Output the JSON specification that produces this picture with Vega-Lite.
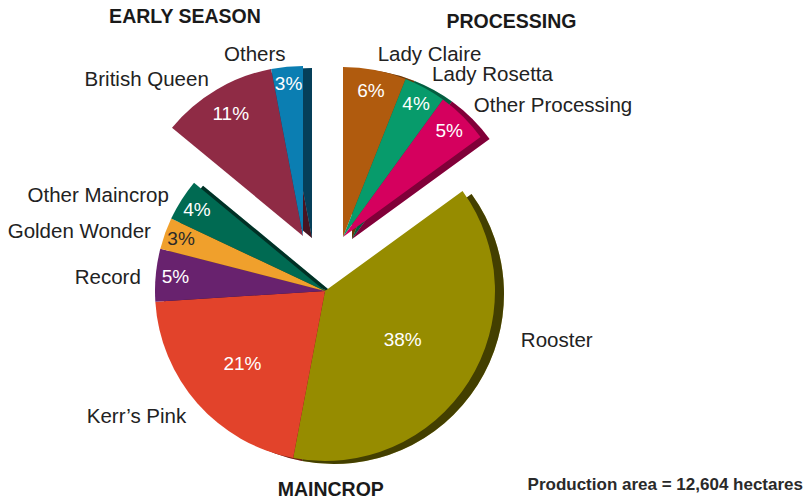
{
  "$schema": "https://vega.github.io/schema/vega-lite/v6.json",
  "width": 809,
  "height": 502,
  "padding": 0,
  "autosize": {"type": "none"},
  "background": "white",
  "config": {"view": {"stroke": null}, "font": "Liberation Sans"},
  "title": {"text": "Production area = 12,604 hectares", "orient": "bottom", "anchor": "end", "offset": -25, "dx": -6, "fontSize": 17, "fontWeight": "bold", "color": "#2a2a2a", "font": "Liberation Sans"},
  "datasets": {
    "varieties": [
      {"name": "Lady Claire", "group": "Processing", "value": 0.06, "order": 1},
      {"name": "Lady Rosetta", "group": "Processing", "value": 0.04, "order": 2},
      {"name": "Other Processing", "group": "Processing", "value": 0.05, "order": 3},
      {"name": "Rooster", "group": "Main", "value": 0.38, "order": 4},
      {"name": "Kerr’s Pink", "group": "Main", "value": 0.21, "order": 5},
      {"name": "Record", "group": "Main", "value": 0.05, "order": 6},
      {"name": "Golden Wonder", "group": "Main", "value": 0.03, "order": 7},
      {"name": "Other Maincrop", "group": "Main", "value": 0.04, "order": 8},
      {"name": "British Queen", "group": "Early", "value": 0.11, "order": 9},
      {"name": "Others", "group": "Early", "value": 0.03, "order": 10}
    ],
    "groups": [
      {"group": "Processing", "title": "PROCESSING", "value": 0.15, "order": 1},
      {"group": "Main", "title": "MAINCROP", "value": 0.71, "order": 2},
      {"group": "Early", "title": "EARLY SEASON", "value": 0.14, "order": 3}
    ]
  },
  "data": {"name": "varieties"},
  "layer": [
    {
      "mark": {"type": "arc", "outerRadius": 170, "xOffset": -70.5, "yOffset": 43},
      "encoding": {
        "theta": {"field": "value", "type": "quantitative", "stack": true},
        "order": {"field": "order", "type": "quantitative"},
        "color": {"field": "name", "type": "nominal", "legend": null,
          "scale": {"domain": ["Lady Claire", "Lady Rosetta", "Other Processing", "Rooster", "Kerr’s Pink", "Record", "Golden Wonder", "Other Maincrop", "British Queen", "Others"],
                    "range": ["#B05B0E", "#079B6B", "#D5005E", "#968C00", "#E2432B", "#68226E", "#F0A02C", "#006A52", "#8F2B45", "#0B7EB2"]}},
        "opacity": {"condition": {"test": "datum.group == 'Main'", "value": 1}, "value": 0}
      }
    },
    {
      "mark": {"type": "arc", "outerRadius": 170, "xOffset": -70.5, "yOffset": 43},
      "encoding": {
        "theta": {"field": "value", "type": "quantitative", "stack": true},
        "order": {"field": "order", "type": "quantitative"},
        "color": {"value": "#000000"},
        "opacity": {"condition": {"test": "datum.group == 'Main'", "value": 0.55}, "value": 0}
      }
    },
    {
      "mark": {"type": "arc", "outerRadius": 170, "xOffset": -79.5, "yOffset": 40},
      "encoding": {
        "theta": {"field": "value", "type": "quantitative", "stack": true},
        "order": {"field": "order", "type": "quantitative"},
        "color": {"field": "name", "type": "nominal", "legend": null},
        "opacity": {"condition": {"test": "datum.group == 'Main'", "value": 1}, "value": 0}
      }
    },
    {
      "mark": {"type": "arc", "outerRadius": 170, "xOffset": -92.5, "yOffset": -13},
      "encoding": {
        "theta": {"field": "value", "type": "quantitative", "stack": true},
        "order": {"field": "order", "type": "quantitative"},
        "color": {"field": "name", "type": "nominal", "legend": null},
        "opacity": {"condition": {"test": "datum.group == 'Early'", "value": 1}, "value": 0}
      }
    },
    {
      "mark": {"type": "arc", "outerRadius": 170, "xOffset": -92.5, "yOffset": -13},
      "encoding": {
        "theta": {"field": "value", "type": "quantitative", "stack": true},
        "order": {"field": "order", "type": "quantitative"},
        "color": {"value": "#000000"},
        "opacity": {"condition": {"test": "datum.group == 'Early'", "value": 0.5}, "value": 0}
      }
    },
    {
      "mark": {"type": "arc", "outerRadius": 170, "xOffset": -101.5, "yOffset": -15},
      "encoding": {
        "theta": {"field": "value", "type": "quantitative", "stack": true},
        "order": {"field": "order", "type": "quantitative"},
        "color": {"field": "name", "type": "nominal", "legend": null},
        "opacity": {"condition": {"test": "datum.group == 'Early'", "value": 1}, "value": 0}
      }
    },
    {
      "mark": {"type": "arc", "outerRadius": 170, "xOffset": -52.5, "yOffset": -12},
      "encoding": {
        "theta": {"field": "value", "type": "quantitative", "stack": true},
        "order": {"field": "order", "type": "quantitative"},
        "color": {"field": "name", "type": "nominal", "legend": null},
        "opacity": {"condition": {"test": "datum.group == 'Processing'", "value": 1}, "value": 0}
      }
    },
    {
      "mark": {"type": "arc", "outerRadius": 170, "xOffset": -52.5, "yOffset": -12},
      "encoding": {
        "theta": {"field": "value", "type": "quantitative", "stack": true},
        "order": {"field": "order", "type": "quantitative"},
        "color": {"value": "#000000"},
        "opacity": {"condition": {"test": "datum.group == 'Processing'", "value": 0.4}, "value": 0}
      }
    },
    {
      "mark": {"type": "arc", "outerRadius": 170, "xOffset": -61.5, "yOffset": -14},
      "encoding": {
        "theta": {"field": "value", "type": "quantitative", "stack": true},
        "order": {"field": "order", "type": "quantitative"},
        "color": {"field": "name", "type": "nominal", "legend": null},
        "opacity": {"condition": {"test": "datum.group == 'Processing'", "value": 1}, "value": 0}
      }
    },
    {
      "mark": {"type": "text", "fontSize": 19, "baseline": "middle", "align": "center", "xOffset": -79.5, "yOffset": 40},
      "encoding": {
        "theta": {"field": "value", "type": "quantitative", "stack": true},
        "order": {"field": "order", "type": "quantitative"},
        "radius": {"field": "value", "type": "quantitative", "scale": {"type": "linear", "domain": [0.03, 0.11, 0.21, 0.38], "range": [153, 142, 110, 92], "zero": false}},
        "text": {"field": "value", "type": "quantitative", "format": ".0%"},
        "color": {"condition": {"test": "datum.name == 'Golden Wonder'", "value": "#2a2a2a"}, "value": "#ffffff"},
        "opacity": {"condition": {"test": "datum.group == 'Main'", "value": 1}, "value": 0}
      }
    },
    {
      "mark": {"type": "text", "fontSize": 19, "baseline": "middle", "align": "center", "xOffset": -101.5, "yOffset": -15},
      "encoding": {
        "theta": {"field": "value", "type": "quantitative", "stack": true},
        "order": {"field": "order", "type": "quantitative"},
        "radius": {"field": "value", "type": "quantitative"},
        "text": {"field": "value", "type": "quantitative", "format": ".0%"},
        "color": {"value": "#ffffff"},
        "opacity": {"condition": {"test": "datum.group == 'Early'", "value": 1}, "value": 0}
      }
    },
    {
      "mark": {"type": "text", "fontSize": 19, "baseline": "middle", "align": "center", "xOffset": -61.5, "yOffset": -14},
      "encoding": {
        "theta": {"field": "value", "type": "quantitative", "stack": true},
        "order": {"field": "order", "type": "quantitative"},
        "radius": {"field": "value", "type": "quantitative"},
        "text": {"field": "value", "type": "quantitative", "format": ".0%"},
        "color": {"value": "#ffffff"},
        "opacity": {"condition": {"test": "datum.group == 'Processing'", "value": 1}, "value": 0}
      }
    },
    {
      "mark": {"type": "text", "fontSize": 20.5, "baseline": "middle", "align": "left", "radius": 200, "dx": 27, "dy": -57, "xOffset": -79.5, "yOffset": 40, "color": "#222222"},
      "encoding": {
        "theta": {"field": "value", "type": "quantitative", "stack": true},
        "order": {"field": "order", "type": "quantitative"},
        "text": {"field": "name"},
        "opacity": {"condition": {"test": "datum.name == 'Rooster'", "value": 1}, "value": 0}
      }
    },
    {
      "mark": {"type": "text", "fontSize": 20.5, "baseline": "middle", "align": "right", "radius": 185, "dy": 4, "xOffset": -79.5, "yOffset": 40, "color": "#222222"},
      "encoding": {
        "theta": {"field": "value", "type": "quantitative", "stack": true},
        "order": {"field": "order", "type": "quantitative"},
        "text": {"field": "name"},
        "opacity": {"condition": {"test": "datum.group == 'Main' && datum.name != 'Rooster'", "value": 1}, "value": 0}
      }
    },
    {
      "mark": {"type": "text", "fontSize": 20.5, "baseline": "middle", "align": "right", "radius": 185, "dy": 3, "xOffset": -101.5, "yOffset": -15, "color": "#222222"},
      "encoding": {
        "theta": {"field": "value", "type": "quantitative", "stack": true},
        "order": {"field": "order", "type": "quantitative"},
        "text": {"field": "name"},
        "opacity": {"condition": {"test": "datum.group == 'Early'", "value": 1}, "value": 0}
      }
    },
    {
      "mark": {"type": "text", "fontSize": 20.5, "baseline": "middle", "align": "left", "radius": 185, "xOffset": -61.5, "yOffset": -14, "color": "#222222"},
      "encoding": {
        "theta": {"field": "value", "type": "quantitative", "stack": true},
        "order": {"field": "order", "type": "quantitative"},
        "text": {"field": "name"},
        "opacity": {"condition": {"test": "datum.group == 'Processing'", "value": 1}, "value": 0}
      }
    },
    {
      "data": {"name": "groups"},
      "mark": {"type": "text", "fontSize": 19.5, "fontWeight": "bold", "baseline": "middle", "align": "left", "radius": 241, "dx": -6, "xOffset": -61.5, "yOffset": -14, "color": "#1a1a1a"},
      "encoding": {
        "theta": {"field": "value", "type": "quantitative", "stack": true},
        "order": {"field": "order", "type": "quantitative"},
        "text": {"field": "title"},
        "opacity": {"condition": {"test": "datum.group == 'Processing'", "value": 1}, "value": 0}
      }
    },
    {
      "data": {"name": "groups"},
      "mark": {"type": "text", "fontSize": 19.5, "fontWeight": "bold", "baseline": "middle", "align": "center", "radius": 199, "dx": 12, "xOffset": -79.5, "yOffset": 40, "color": "#1a1a1a"},
      "encoding": {
        "theta": {"field": "value", "type": "quantitative", "stack": true},
        "order": {"field": "order", "type": "quantitative"},
        "text": {"field": "title"},
        "opacity": {"condition": {"test": "datum.group == 'Main'", "value": 1}, "value": 0}
      }
    },
    {
      "data": {"name": "groups"},
      "mark": {"type": "text", "fontSize": 19.5, "fontWeight": "bold", "baseline": "middle", "align": "center", "radius": 249, "dx": -12, "dy": 6, "xOffset": -101.5, "yOffset": -15, "color": "#1a1a1a"},
      "encoding": {
        "theta": {"field": "value", "type": "quantitative", "stack": true},
        "order": {"field": "order", "type": "quantitative"},
        "text": {"field": "title"},
        "opacity": {"condition": {"test": "datum.group == 'Early'", "value": 1}, "value": 0}
      }
    }
  ]
}
